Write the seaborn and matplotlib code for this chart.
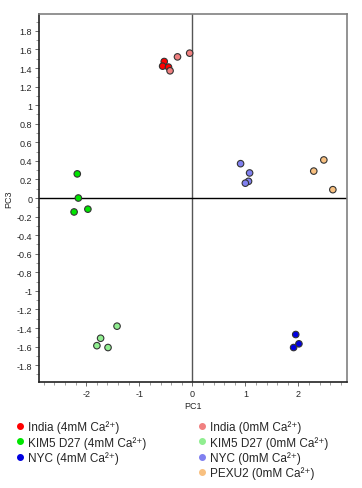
import pandas as pd
import numpy as np
import matplotlib
matplotlib.use("Agg")
import matplotlib.pyplot as plt
from matplotlib.ticker import MultipleLocator
from matplotlib.lines import Line2D
import seaborn as sns

# PCA scores (PC1, PC3)
groups = ["India (4mM Ca²⁺)", "KIM5 D27 (4mM Ca²⁺)", "NYC (4mM Ca²⁺)",
          "India (0mM Ca²⁺)", "KIM5 D27 (0mM Ca²⁺)", "NYC (0mM Ca²⁺)",
          "PEXU2 (0mM Ca²⁺)"]
colors = ["#ff0000", "#00e600", "#0000e0", "#f08080", "#90ee90", "#8080f0", "#f8c080"]

pc1 = {
    groups[0]: [-0.53, -0.56, -0.45],
    groups[1]: [-2.17, -2.15, -2.23, -1.97],
    groups[2]: [1.95, 2.01, 1.91],
    groups[3]: [-0.42, -0.28, -0.05],
    groups[4]: [-1.42, -1.73, -1.80, -1.59],
    groups[5]: [0.91, 1.08, 1.06, 1.00],
    groups[6]: [2.48, 2.29, 2.65],
}
pc3 = {
    groups[0]: [1.47, 1.42, 1.41],
    groups[1]: [0.26, 0.00, -0.15, -0.12],
    groups[2]: [-1.47, -1.57, -1.61],
    groups[3]: [1.37, 1.52, 1.56],
    groups[4]: [-1.38, -1.51, -1.59, -1.61],
    groups[5]: [0.37, 0.27, 0.18, 0.16],
    groups[6]: [0.41, 0.29, 0.09],
}
yticks = [-1.8, -1.6, -1.4, -1.2, -1, -0.8, -0.6, -0.4, -0.2, 0,
          0.2, 0.4, 0.6, 0.8, 1, 1.2, 1.4, 1.6, 1.8]

rows = []
for g in groups:
    for x, y in zip(pc1[g], pc3[g]):
        rows.append({"PC1": x, "PC3": y, "group": g})
df = pd.DataFrame(rows)

sns.set_style("white")
plt.rcParams["font.family"] = ["Liberation Sans", "DejaVu Sans"]
plt.rcParams["axes.unicode_minus"] = False

fig = plt.figure(figsize=(3.62, 4.89), dpi=100)
ax = fig.add_axes([0.108, 0.217, 0.851, 0.752])

ax.axvline(0, color="#555555", lw=1.0, zorder=1)
ax.axhline(0, color="black", lw=1.0, zorder=1)

sns.scatterplot(data=df, x="PC1", y="PC3", hue="group", hue_order=groups,
                palette=colors, s=22, edgecolor="#333333", linewidth=0.8,
                legend=False, ax=ax, zorder=3)

ax.set_xlim(-2.89, 2.92)
ax.set_ylim(-1.98, 1.98)
ax.xaxis.set_major_locator(MultipleLocator(1))
ax.xaxis.set_minor_locator(MultipleLocator(0.2))
ax.set_yticks(yticks)
ax.set_yticklabels([f"{v:g}" for v in yticks])
ax.yaxis.set_minor_locator(MultipleLocator(0.1))
ax.tick_params(axis="both", which="major", labelsize=6.5, length=3, width=0.6,
               color="#555555", direction="out", pad=2, left=True, bottom=True)
ax.tick_params(axis="both", which="minor", length=2, width=0.5,
               color="#777777", direction="out", left=True, bottom=True)

for side in ["top", "right"]:
    ax.spines[side].set_color("#808080")
    ax.spines[side].set_linewidth(1.2)
for side in ["left", "bottom"]:
    ax.spines[side].set_color("#222222")
    ax.spines[side].set_linewidth(1.2)

ax.set_xlabel("PC1", fontsize=6.5, labelpad=2)
ax.set_ylabel("PC3", fontsize=6.5, labelpad=2)

handles = []
labels = []
order = [0, 1, 2, None, 3, 4, 5, 6]
for i in order:
    if i is None:
        handles.append(Line2D([], [], linestyle="none"))
        labels.append("")
    else:
        handles.append(Line2D([], [], marker="o", linestyle="none",
                              markerfacecolor=colors[i], markeredgecolor=colors[i],
                              markersize=4))
        labels.append(groups[i])

fig.legend(handles, labels, ncol=2, loc="upper left", bbox_to_anchor=(0.04, 0.138),
           frameon=False, fontsize=8.5, handletextpad=0.25, columnspacing=4.25,
           labelspacing=0.2, handlelength=0.9, borderpad=0, borderaxespad=0)

fig.savefig("out.png", dpi=100)
